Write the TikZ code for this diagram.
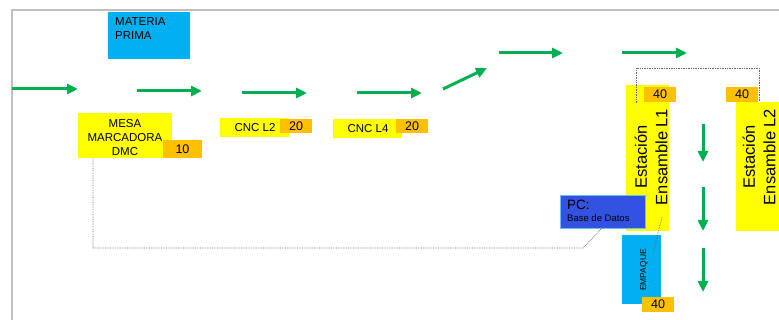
\documentclass[tikz,border=0pt]{standalone}
\usepackage{fontspec}
\setmainfont{Liberation Sans}
\usetikzlibrary{arrows.meta}

\definecolor{cellyellow}{HTML}{FFFF00}
\definecolor{cellorange}{HTML}{FFC000}
\definecolor{cellcyan}{HTML}{00B0F0}
\definecolor{pcblue}{HTML}{3352E2}
\definecolor{flowgreen}{HTML}{00B050}

\begin{document}
\begin{tikzpicture}[x=1pt,y=-1pt,
    flow/.style={draw=flowgreen,line width=3pt,-{Triangle[length=11pt,width=10pt]}},
    box/.style={anchor=north west,inner sep=0pt,outer sep=0pt},
    station/.style={box,fill=cellyellow},
    tag/.style={box,fill=cellorange,font=\fontsize{12.5}{14}\selectfont},
    label/.style={inner sep=0pt,font=\fontsize{11.5}{14}\selectfont},
    link/.style={draw=black!60,densely dotted,line width=0.7pt}]

  \useasboundingbox (0,0) rectangle (779,320);
  \draw[black!25,line width=2pt] (12,320) -- (12,10) -- (779,10);

  % materia prima
  \node[box,fill=cellcyan,minimum width=82pt,minimum height=47pt] (materia) at (108,12) {};
  \node[label,anchor=west,align=left] at (115,29) {MATERIA\\PRIMA};

  % linea de maquinas
  \node[station,minimum width=94pt,minimum height=45pt] (mesa) at (78,113) {};
  \node[tag,minimum width=39pt,minimum height=18pt] (t10) at (163,140) {10};
  \node[label,align=center] at (125,138) {MESA\\MARCADORA\\DMC};

  \node[station,minimum width=69pt,minimum height=19pt] (cnc2) at (220,118) {};
  \node[label] at (255,128) {CNC L2};
  \node[tag,minimum width=32pt,minimum height=14pt] (t20a) at (280,119) {20};

  \node[station,minimum width=69pt,minimum height=19pt] (cnc4) at (333,119) {};
  \node[label] at (368,129) {CNC L4};
  \node[tag,minimum width=32pt,minimum height=14pt] (t20b) at (396,119) {20};

  % estaciones de ensamble
  \node[station,minimum width=43pt,minimum height=146pt] (ens1) at (626,85) {};
  \node[tag,minimum width=32pt,minimum height=15pt] (t40a) at (644,87) {40};
  \node[label,rotate=90,align=center,font=\fontsize{16.5}{20.5}\selectfont] at (651,157) {Estación\\Ensamble L1};

  \node[station,minimum width=43pt,minimum height=129pt] (ens2) at (736,102) {};
  \node[tag,minimum width=32pt,minimum height=15pt] (t40b) at (726,87) {40};
  \node[label,rotate=90,align=center,font=\fontsize{16.5}{20.5}\selectfont] at (759,157) {Estación\\Ensamble L2};

  \node[box,fill=pcblue,draw=blue!40!cyan!60,minimum width=85pt,minimum height=33pt] (pc) at (560,195) {};
  \node[label,anchor=north west,align=left] at (567,200) {\fontsize{13.5}{14}\selectfont PC:\\[-2pt]\fontsize{9.5}{11}\selectfont Base de Datos};

  \node[box,fill=cellcyan,minimum width=39pt,minimum height=69pt] (empaque) at (622,235) {};
  \node[label,rotate=90,font=\fontsize{8.5}{10}\selectfont] at (644,270) {EMPAQUE};
  \node[tag,minimum width=32pt,minimum height=15pt] (t40c) at (642,297) {40};

  % conexiones de datos
  \coordinate (bend) at (583,248);
  \draw[link] ([xshift=15pt]mesa.south west) |- (bend) -- ([xshift=42pt]pc.south west);
  \draw[link] ([shift={(10pt,-18pt)}]ens1.north west) -- ++(0,-35) -| ([xshift=23pt]ens2.north west);
  \draw[link] ([shift={(36pt,-132pt)}]ens1.north west) -- ([shift={(31pt,-18pt)}]empaque.north west);

  % flujo
  \foreach \ax/\ay/\bx/\by in {12/89/78/89, 137/91/202/91, 242/93/307/93, 357/93/422/93,
                               443/89/487/68, 499/53/563/53, 622/53/687/53,
                               703/124/703/162, 703/187/703/231, 703/248/703/292}
    \draw[flow] (\ax,\ay) -- (\bx,\by);
\end{tikzpicture}
\end{document}
